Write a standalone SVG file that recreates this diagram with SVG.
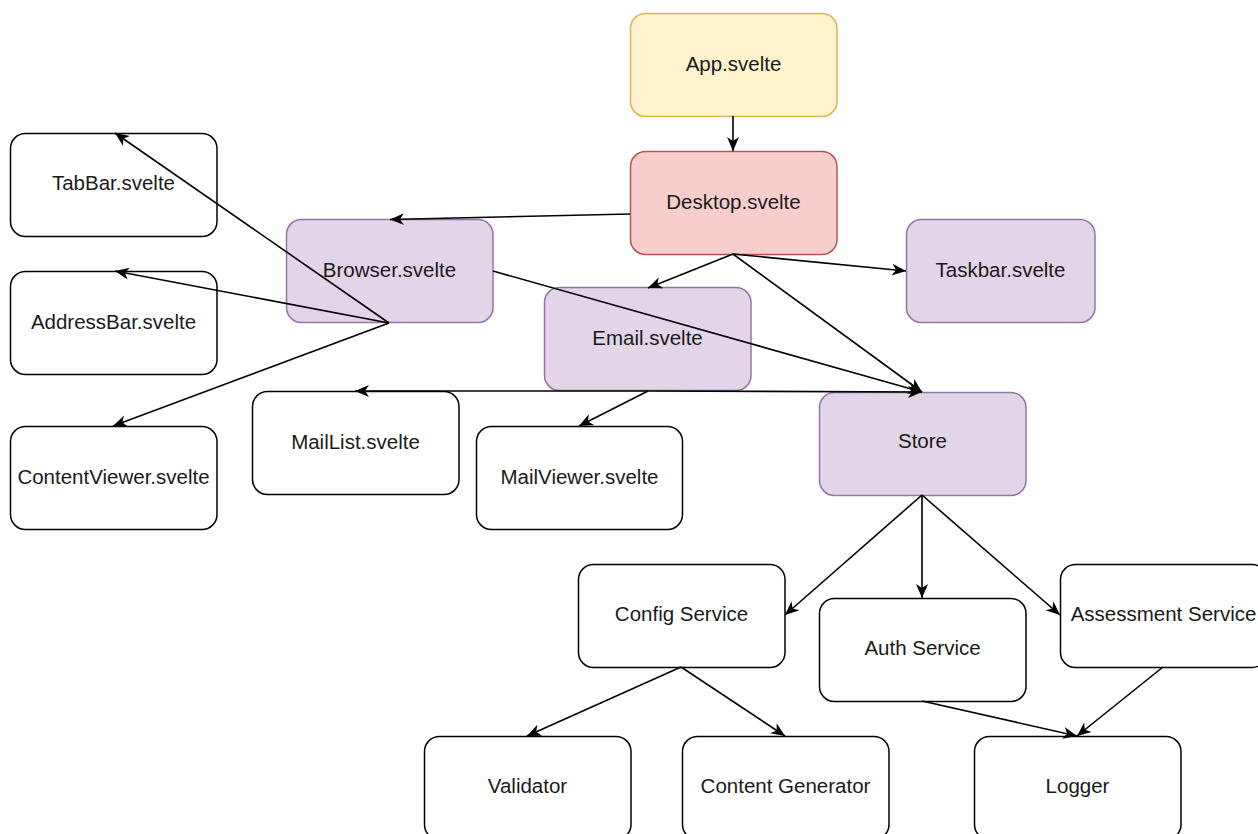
<svg xmlns="http://www.w3.org/2000/svg" width="1258" height="834" viewBox="0 0 1258 834">
<style>
.n rect{stroke-width:1.5}
.w rect{fill:#ffffff;stroke:#000000}
.p rect{fill:#e1d5e7;stroke:#9673a6}
.y rect{fill:#fff2cc;stroke:#d6b656}
.r rect{fill:#f8cecc;stroke:#b85450}
.n text{font-family:"Liberation Sans",Arial,Helvetica,sans-serif;font-size:20.5px;fill:#1a1a1a;text-anchor:middle}
#edges path{fill:none;stroke:#000;stroke-width:1.6;marker-end:url(#ah)}
</style>
<defs>
<marker id="ah" markerUnits="userSpaceOnUse" markerWidth="16" markerHeight="16" viewBox="0 0 16 16" refX="14" refY="8" orient="auto">
<path d="M0,2 L14,8 L0,14 L4,8 Z" fill="#000"/>
</marker>
</defs>
<rect width="1258" height="834" fill="#ffffff"/>
<g id="app" class="n y"><rect x="630.5" y="13.5" width="206.5" height="103" rx="15"/><text x="733.5" y="71">App.svelte</text></g>
<g id="desktop" class="n r"><rect x="630.5" y="151.5" width="206.5" height="103" rx="15"/><text x="733.5" y="209">Desktop.svelte</text></g>
<g id="browser" class="n p"><rect x="286.5" y="219.5" width="206.5" height="103" rx="15"/><text x="389.5" y="277">Browser.svelte</text></g>
<g id="taskbar" class="n p"><rect x="906.5" y="219.5" width="188.5" height="103" rx="15"/><text x="1000.5" y="277">Taskbar.svelte</text></g>
<g id="email" class="n p"><rect x="544.5" y="287.5" width="206.5" height="103" rx="15"/><text x="647.5" y="345">Email.svelte</text></g>
<g id="store" class="n p"><rect x="819.5" y="392.5" width="206.5" height="103" rx="15"/><text x="922.5" y="448">Store</text></g>
<g id="tabbar" class="n w"><rect x="10.5" y="133.5" width="206.5" height="103" rx="15"/><text x="113.5" y="190">TabBar.svelte</text></g>
<g id="addressbar" class="n w"><rect x="10.5" y="271.5" width="206.5" height="103" rx="15"/><text x="113.5" y="329">AddressBar.svelte</text></g>
<g id="contentviewer" class="n w"><rect x="10.5" y="426.5" width="206.5" height="103" rx="15"/><text x="113.5" y="484">ContentViewer.svelte</text></g>
<g id="maillist" class="n w"><rect x="252.5" y="391.5" width="206.5" height="103" rx="15"/><text x="355.5" y="449">MailList.svelte</text></g>
<g id="mailviewer" class="n w"><rect x="476.5" y="426.5" width="206" height="103" rx="15"/><text x="579.5" y="484">MailViewer.svelte</text></g>
<g id="config" class="n w"><rect x="578.5" y="564.5" width="206.5" height="103" rx="15"/><text x="681.5" y="621">Config Service</text></g>
<g id="auth" class="n w"><rect x="819.5" y="598.5" width="206.5" height="103" rx="15"/><text x="922.5" y="655">Auth Service</text></g>
<g id="assessment" class="n w"><rect x="1060.5" y="564.5" width="206.5" height="103" rx="15"/><text x="1163.5" y="621">Assessment Service</text></g>
<g id="validator" class="n w"><rect x="424.5" y="736.5" width="206.5" height="103" rx="15"/><text x="527.5" y="793">Validator</text></g>
<g id="contentgen" class="n w"><rect x="682.5" y="736.5" width="206.5" height="103" rx="15"/><text x="785.5" y="793">Content Generator</text></g>
<g id="logger" class="n w"><rect x="974.5" y="736.5" width="206.5" height="103" rx="15"/><text x="1077.5" y="793">Logger</text></g>
<g id="edges">
<path d="M733,116 L733,151"/>
<path d="M630,214 L390,219.5"/>
<path d="M733,254 L648,288"/>
<path d="M733,254 L906,271"/>
<path d="M733,254 L922,392"/>
<path d="M389,323 L115,133"/>
<path d="M389,323 L115,271"/>
<path d="M389,323 L113,426"/>
<path d="M493,271 L922,392"/>
<path d="M648,391 L355,391"/>
<path d="M648,391 L922,392"/>
<path d="M648,391 L579,426"/>
<path d="M922,495 L785,615"/>
<path d="M922,495 L922,598"/>
<path d="M922,495 L1060,615"/>
<path d="M681,667 L527,736"/>
<path d="M681,667 L785,736"/>
<path d="M922,701 L1077,736"/>
<path d="M1163,667 L1077,736"/>
</g>
</svg>
